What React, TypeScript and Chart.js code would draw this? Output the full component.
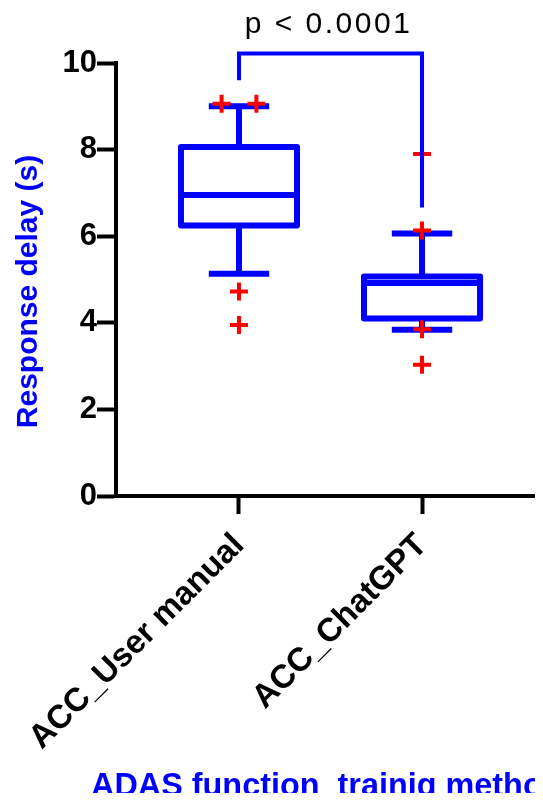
import React, { useEffect, useRef } from 'react';
import { Chart, registerables } from 'chart.js';

Chart.register(...registerables);

// ---- data ----
const categories = ['ACC_User manual', 'ACC_ChatGPT'];
const categoryPositions = [1, 2];
const whiskerLow = [5.13, 3.84];
const q1 = [6.25, 4.1];
const median = [6.95, 4.92];
const q3 = [8.06, 5.07];
const whiskerHigh = [9.0, 6.06];
const outlierValuesUserManual = [9.06, 9.06, 4.72, 3.95];
const outlierJitterUserManual = [-0.095, 0.095, 0, 0];
const outlierValuesChatGPT = [7.9, 6.13, 3.85, 3.03];
const outlierJitterChatGPT = [0, 0, 0, 0];
const yTicks = [0, 2, 4, 6, 8, 10];
const pValueLabel = 'p < 0.0001';
const bracketTop = 10.22;
const bracketLeftEnd = 9.6;
const bracketRightEnd = 6.66;
const yTitle = 'Response delay (s)';
const xTitle = 'ADAS function_trainig method';

// ---- style ----
const BLUE = '#0000ff';
const RED = '#ff0000';
const FONT = '"Liberation Sans", Arial, sans-serif';
const BOX_HALF = 0.317;
const CAP_HALF = 0.165;
const CANVAS_W = 535;
const CANVAS_H = 793;
const PLOT_BOTTOM = 488;

const boxPlugin = {
  id: 'boxes',
  beforeDatasetsDraw(chart: any) {
    const { ctx, scales } = chart;
    const x = scales.x;
    const y = scales.y;
    ctx.save();
    ctx.strokeStyle = BLUE;
    ctx.lineWidth = 6;
    ctx.lineJoin = 'round';
    ctx.lineCap = 'butt';
    categoryPositions.forEach((p, i) => {
      const cx = x.getPixelForValue(p);
      const hw = x.getPixelForValue(p + BOX_HALF) - cx;
      const cw = x.getPixelForValue(p + CAP_HALF) - cx;
      const yLo = y.getPixelForValue(whiskerLow[i]);
      const yQ1 = y.getPixelForValue(q1[i]);
      const yMed = y.getPixelForValue(median[i]);
      const yQ3 = y.getPixelForValue(q3[i]);
      const yHi = y.getPixelForValue(whiskerHigh[i]);
      ctx.beginPath();
      ctx.moveTo(cx, yQ3);
      ctx.lineTo(cx, yHi);
      ctx.moveTo(cx - cw, yHi);
      ctx.lineTo(cx + cw, yHi);
      ctx.moveTo(cx, yQ1);
      ctx.lineTo(cx, yLo);
      ctx.moveTo(cx - cw, yLo);
      ctx.lineTo(cx + cw, yLo);
      ctx.stroke();
      ctx.strokeRect(cx - hw, yQ3, 2 * hw, yQ1 - yQ3);
      ctx.beginPath();
      ctx.moveTo(cx - hw, yMed);
      ctx.lineTo(cx + hw, yMed);
      ctx.stroke();
    });
    ctx.restore();
  },
};

const bracketPlugin = {
  id: 'bracket',
  afterDatasetsDraw(chart: any) {
    const { ctx, scales } = chart;
    const x = scales.x;
    const y = scales.y;
    const x1 = x.getPixelForValue(categoryPositions[0]);
    const x2 = x.getPixelForValue(categoryPositions[1]);
    const yt = y.getPixelForValue(bracketTop);
    ctx.save();
    ctx.strokeStyle = BLUE;
    ctx.lineWidth = 4;
    ctx.lineJoin = 'miter';
    ctx.beginPath();
    ctx.moveTo(x1, y.getPixelForValue(bracketLeftEnd));
    ctx.lineTo(x1, yt);
    ctx.lineTo(x2, yt);
    ctx.lineTo(x2, y.getPixelForValue(bracketRightEnd));
    ctx.stroke();
    ctx.fillStyle = '#000';
    ctx.font = `30px ${FONT}`;
    (ctx as any).letterSpacing = '2.5px';
    ctx.textAlign = 'center';
    ctx.textBaseline = 'alphabetic';
    ctx.fillText(pValueLabel, (x1 + x2) / 2 - 2, yt - 20);
    ctx.restore();
  },
};

const titlesPlugin = {
  id: 'titles',
  afterDraw(chart: any) {
    const { ctx, chartArea } = chart;
    ctx.save();
    ctx.fillStyle = BLUE;
    ctx.font = `bold 32.4px ${FONT}`;
    ctx.textAlign = 'left';
    ctx.textBaseline = 'alphabetic';
    ctx.fillText(xTitle, chartArea.left - 25, CANVAS_H - 5);
    ctx.translate(chartArea.left - 87, (chartArea.top + chartArea.bottom) / 2 + 12);
    ctx.rotate(-Math.PI / 2);
    ctx.font = `bold 30px ${FONT}`;
    ctx.textAlign = 'center';
    ctx.textBaseline = 'middle';
    ctx.fillText(yTitle, 0, 0);
    ctx.restore();
  },
};

export default function App() {
  const ref = useRef<HTMLCanvasElement>(null);
  useEffect(() => {
    if (!ref.current) return;
    const outliers = [
      ...outlierValuesUserManual.map((v, k) => ({ x: categoryPositions[0] + outlierJitterUserManual[k], y: v })),
      ...outlierValuesChatGPT.map((v, k) => ({ x: categoryPositions[1] + outlierJitterChatGPT[k], y: v })),
    ];
    const chart = new Chart(ref.current, {
      type: 'scatter',
      data: {
        datasets: [
          {
            data: outliers,
            pointStyle: 'cross',
            radius: 9,
            borderWidth: 4,
            borderColor: RED,
            backgroundColor: RED,
          } as any,
        ],
      },
      options: {
        animation: false,
        responsive: false,
        layout: { autoPadding: false, padding: { top: 55, right: 0, left: 0, bottom: 0 } },
        plugins: { legend: { display: false }, tooltip: { enabled: false } },
        scales: {
          x: {
            type: 'linear',
            min: 0.328,
            max: 2.661,
            afterBuildTicks: (s: any) => {
              s.ticks = categoryPositions.map((v) => ({ value: v }));
            },
            afterFit: (s: any) => {
              s.height = CANVAS_H - PLOT_BOTTOM;
              s.paddingLeft = 0;
              s.paddingRight = 0;
            },
            ticks: {
              callback: (v: any) => categories[categoryPositions.indexOf(Number(v))] ?? '',
              maxRotation: 45,
              minRotation: 45,
              autoSkip: false,
              color: '#000',
              padding: 12,
              font: { family: FONT, size: 33, weight: 'bold' },
            },
            grid: { drawOnChartArea: false, drawTicks: true, tickLength: 18, tickWidth: 4, tickColor: '#000' },
            border: { display: true, color: '#000', width: 4 },
          },
          y: {
            min: 0,
            max: 10,
            afterBuildTicks: (s: any) => {
              s.ticks = yTicks.map((v) => ({ value: v }));
            },
            afterFit: (s: any) => {
              s.width = 108;
              s.paddingTop = 0;
              s.paddingBottom = 0;
            },
            ticks: {
              color: '#000',
              padding: 0,
              font: { family: FONT, size: 31, weight: 'bold' },
            },
            grid: { drawOnChartArea: false, drawTicks: true, tickLength: 19, tickWidth: 4, tickColor: '#000' },
            border: { display: true, color: '#000', width: 4 },
          },
        },
      } as any,
      plugins: [boxPlugin, bracketPlugin, titlesPlugin],
    });
    return () => chart.destroy();
  }, []);
  return (
    <canvas
      ref={ref}
      width={CANVAS_W}
      height={CANVAS_H}
      style={{ display: 'block', width: CANVAS_W, height: CANVAS_H, marginBottom: -8 }}
    />
  );
}
